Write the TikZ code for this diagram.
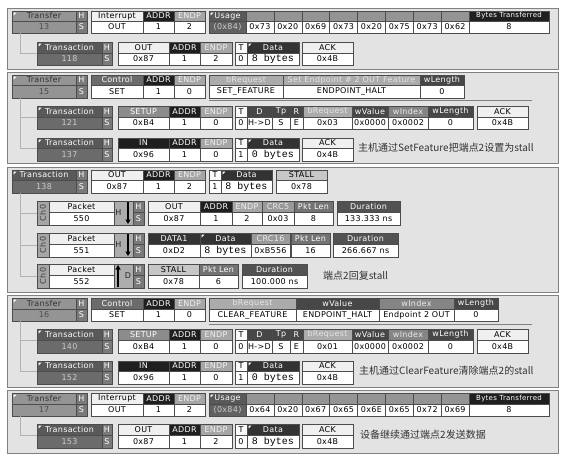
\documentclass[tikz,border=0pt]{standalone}
\usepackage{fontspec}
\usepackage{graphicx}
\usetikzlibrary{arrows.meta}

\newfontfamily\ui[LetterSpace=4]{DejaVu Sans}
\newfontfamily\mono{Liberation Mono}
\newfontfamily\cjk{Noto Sans CJK SC}
\newcommand\uif{\ui\fontsize{8}{9}\selectfont}
\newcommand\monof{\mono\fontsize{10}{11}\selectfont}

% one cell: name, style, x1, y1, x2, y2, text
\newcommand\cell[7]{%
  \pgfmathsetmacro\cellw{#5-#3}\pgfmathsetmacro\cellh{#6-#4}%
  \pgfmathsetmacro\cellx{(#3+#5)/2}\pgfmathsetmacro\celly{(#4+#6)/2}%
  \node[cell,#2,minimum width=\cellw pt,minimum height=\cellh pt] (#1) at (\cellx,\celly) {#7};}
% header over value on the current row
\newcommand\setrow[3]{\def\ya{#1}\def\yb{#2}\def\yc{#3}}
\newcommand\fld[7]{\cell{#1-h}{#4}{#2}{\ya}{#3}{\yb}{#6}\cell{#1-v}{#5}{#2}{\yb}{#3}{\yc}{#7}}
% small corner flag
\newcommand\cornerflag[1]{\fill[white] (#1.north west) ++(1.5,1.5) -- ++(3,0) -- ++(-3,3) -- cycle;}

% transfer row head: number, type style, type, value, endpoint
\newcommand\xfer[5]{%
  \fld{tr#1}{12}{76}{trh}{trv}{Transfer}{#1}\cornerflag{tr#1-h}
  \fld{hs#1}{76}{87}{hs}{hs}{H}{S}
  \fld{ty#1}{91}{143}{#2}{vw}{#3}{#4}
  \fld{ad#1}{143}{174}{hk}{vw}{ADDR}{1}
  \fld{ep#1}{174}{205}{hep}{vw}{ENDP}{#5}}
% usage bytes of a transfer
\newcommand\usagerow[2]{%
  \fld{us#1}{209}{246}{hus}{vus}{Usage}{(0x84)}\cornerflag{us#1-h}
  \foreach \b [count=\i] in {#2} {
    \pgfmathsetmacro\xl{246+(\i-1)*27.875}\pgfmathsetmacro\xr{\xl+27.875}
    \fld{ub#1-\i}{\xl}{\xr}{hg}{vw}{}{\b}
  }
  \fld{bt#1}{469}{549}{hk}{vw}{\ui\fontsize{7}{8}\selectfont Bytes Transferred}{8}}
% transaction row head: number, pid style, pid, value, endpoint
\newcommand\txn[5]{%
  \fld{tx#1}{37}{102}{txh}{txv}{Transaction}{#1}\cornerflag{tx#1-h}
  \fld{th#1}{102}{112}{hs}{hs}{H}{S}
  \fld{pid#1}{118}{169}{#2}{vw}{#3}{#4}
  \fld{ta#1}{169}{200}{hk}{vw}{ADDR}{1}
  \fld{te#1}{200}{232}{hep}{vw}{ENDP}{#5}}
% data stage: number, toggle, bytes
\newcommand\datastage[3]{%
  \fld{tg#1}{235}{247}{ht}{vw}{T}{#2}
  \fld{dt#1}{247}{299}{hd}{vm}{Data}{#3}\cornerflag{dt#1-h}
  \fld{ak#1}{302}{353}{hl}{vw}{ACK}{0x4B}}
% setup stage: number, bRequest
\newcommand\setupstage[2]{%
  \fld{tg#1}{235}{247}{ht}{vw}{T}{0}
  \fld{dr#1}{247}{272}{hdk}{vw}{D}{H->D}
  \fld{tp#1}{272}{290}{hdk}{vw}{Tp}{S}
  \fld{rc#1}{290}{303}{hdk}{vw}{R}{E}
  \fld{rq#1}{303}{352}{hbr}{vw}{bRequest}{#2}
  \fld{wv#1}{352}{388}{hdk}{vw}{wValue}{0x0000}
  \fld{wi#1}{388}{428}{hmd}{vw}{wIndex}{0x0002}
  \fld{wl#1}{428}{473}{hdk}{vw}{wLength}{0}
  \fld{ak#1}{477}{528}{hl}{vw}{ACK}{0x4B}}
% packet row head
\newcommand\pkt[1]{%
  \cell{ch#1}{chs}{37}{\ya}{49}{\yc}{\rotatebox{90}{Ch0}}
  \fld{pk#1}{49}{114}{hl}{vw}{Packet}{#1}
  \cell{ar#1}{har}{114}{\ya}{133}{\yc}{}
  \fld{ph#1}{133}{144}{hs}{hs}{H}{S}}

\begin{document}
\begin{tikzpicture}[x=1pt, y=-1pt,
    cell/.style={draw=black!70, line width=.5pt, inner sep=0pt, outer sep=0pt, font=\uif},
    trh/.style={fill=black!42, text=black!80},
    trv/.style={fill=black!42, text=black!70},
    hs/.style={fill=black!52, text=white},
    hl/.style={fill=black!6},
    vw/.style={fill=white},
    vm/.style={fill=white, font=\monof},
    hk/.style={fill=black!88, text=white},
    hep/.style={fill=black!35, text=black!5},
    hus/.style={fill=black!65, text=white},
    vus/.style={fill=black!62, text=black!20},
    hg/.style={fill=black!42},
    txh/.style={fill=black!65, text=white},
    txv/.style={fill=black!58, text=black!20},
    ht/.style={fill=black!2},
    hd/.style={fill=black!80, text=white},
    hctl/.style={fill=black!58, text=white},
    hbr/.style={fill=black!33, text=black!10},
    hdk/.style={fill=black!72, text=white},
    hmd/.style={fill=black!48, text=black!8},
    hsu/.style={fill=black!45, text=white},
    hst/.style={fill=black!22},
    hcrc/.style={fill=black!40, text=black!8},
    hpl/.style={fill=black!55, text=white},
    hdu/.style={fill=black!68, text=white},
    chs/.style={fill=black!35, text=black!75},
    har/.style={fill=black!32},
    dirlbl/.style={font=\uif, text=black!85, inner sep=0pt},
    panel/.style={draw=black!50, line width=1pt, fill=black!11},
    treeln/.style={draw=black!30, line width=.8pt},
    dirarr/.style={line width=1.6pt, -{Triangle[length=4.5pt,width=5pt]}},
    cnote/.style={font=\cjk\fontsize{10}{12}\selectfont, anchor=west, inner sep=0pt, text=black!80}]

    % Page and panels
    \useasboundingbox (0,0) rectangle (566,458);
    \fill[white] (0,0) rectangle (566,458);
    \draw[panel] (7,8) rectangle (558,69);
    \draw[panel] (7,72) rectangle (558,163);
    \draw[panel] (7,167) rectangle (558,292);
    \draw[panel] (7,295) rectangle (558,387);
    \draw[panel] (7,390) rectangle (558,453);

    % Transfer 13
    \setrow{11}{21}{33}
    \xfer{13}{hl}{Interrupt}{OUT}{2}
    \usagerow{13}{0x73,0x20,0x69,0x73,0x20,0x75,0x73,0x62}
    \setrow{42}{53}{65}
    \txn{118}{hl}{OUT}{0x87}{2}
    \datastage{118}{0}{8 bytes}
    \draw[treeln] (tr13-v.south west) ++(8,0) |- (tx118-h.south west);

    % Transfer 15: SET_FEATURE
    \setrow{75}{85}{98}
    \xfer{15}{hctl}{Control}{SET}{0}
    \fld{br15}{209}{283}{hbr}{vw}{bRequest}{SET\_FEATURE}
    \fld{fs15}{283}{420}{hbr}{vw}{Set Endpoint \# 2 OUT Feature}{ENDPOINT\_HALT}
    \fld{wl15}{420}{464}{hdk}{vw}{wLength}{0}
    \draw[black!50, line width=1pt] (209,100) -- (532,100);
    \setrow{106}{117}{129}
    \txn{121}{hsu}{SETUP}{0xB4}{0}
    \setupstage{121}{0x03}
    \setrow{138}{148}{161}
    \txn{137}{hk}{IN}{0x96}{0}
    \datastage{137}{1}{0 bytes}
    \node[cnote] (n15) at (358,148) {主机通过SetFeature把端点2设置为stall};
    \draw[treeln] (tr15-v.south west) ++(8,0) |- (tx121-h.south west);
    \draw[treeln] (tr15-v.south west) ++(8,0) |- (tx137-h.south west);

    % Transaction 138 with its packets
    \setrow{170}{180}{193}
    \fld{tx138}{12}{76}{txh}{txv}{Transaction}{138}\cornerflag{tx138-h}
    \fld{th138}{76}{87}{hs}{hs}{H}{S}
    \fld{pid138}{91}{143}{hl}{vw}{OUT}{0x87}
    \fld{ta138}{143}{174}{hk}{vw}{ADDR}{1}
    \fld{te138}{174}{205}{hep}{vw}{ENDP}{2}
    \fld{tg138}{209}{221}{ht}{vw}{T}{1}
    \fld{dt138}{221}{272}{hd}{vm}{Data}{8 bytes}\cornerflag{dt138-h}
    \fld{sk138}{276}{327}{hst}{vw}{STALL}{0x78}

    \setrow{201}{212}{225}
    \pkt{550}
    \node[dirlbl] (hd550) at ([xshift=-5pt]ar550.center) {H};
    \draw[dirarr] ([xshift=4.5pt,yshift=-1pt]ar550.north) -- ([xshift=4.5pt,yshift=1pt]ar550.south);
    \fld{pid550}{148}{200}{hl}{vw}{OUT}{0x87}
    \fld{ad550}{200}{232}{hk}{vw}{ADDR}{1}
    \fld{ep550}{232}{262}{hep}{vw}{ENDP}{2}
    \fld{cr550}{262}{294}{hcrc}{vw}{CRC5}{0x03}
    \fld{pl550}{294}{333}{hpl}{vw}{Pkt Len}{8}
    \fld{du550}{337}{400}{hdu}{vw}{Duration}{133.333 ns}

    \setrow{233}{244}{257}
    \pkt{551}
    \node[dirlbl] (hd551) at ([xshift=-5pt]ar551.center) {H};
    \draw[dirarr] ([xshift=4.5pt,yshift=-1pt]ar551.north) -- ([xshift=4.5pt,yshift=1pt]ar551.south);
    \fld{pid551}{148}{200}{hd}{vw}{DATA1}{0xD2}
    \fld{dt551}{200}{251}{hd}{vm}{Data}{8 bytes}\cornerflag{dt551-h}
    \fld{cr551}{251}{290}{hcrc}{vw}{CRC16}{0xB556}
    \fld{pl551}{291}{330}{hpl}{vw}{Pkt Len}{16}
    \fld{du551}{333}{398}{hdu}{vw}{Duration}{266.667 ns}

    \setrow{264}{275}{288}
    \pkt{552}
    \node[dirlbl] (hd552) at ([xshift=4.5pt]ar552.center) {D};
    \draw[dirarr] ([xshift=-5.5pt,yshift=1pt]ar552.south) -- ([xshift=-5.5pt,yshift=-1pt]ar552.north);
    \fld{pid552}{148}{199}{hst}{vw}{STALL}{0x78}
    \fld{pl552}{199}{238}{hpl}{vw}{Pkt Len}{6}
    \fld{du552}{242}{307}{hdu}{vw}{Duration}{100.000 ns}
    \node[cnote] (n138) at (323,276) {端点2回复stall};
    \foreach \p in {550,551,552}
        \draw[treeln] (tx138-v.south west) ++(8,0) |- (ch\p.west);

    % Transfer 16: CLEAR_FEATURE
    \setrow{298}{309}{321}
    \xfer{16}{hctl}{Control}{SET}{0}
    \fld{br16}{209}{296}{hbr}{vw}{bRequest}{CLEAR\_FEATURE}
    \fld{wv16}{296}{379}{hdk}{vw}{wValue}{ENDPOINT\_HALT}
    \fld{wi16}{379}{454}{hmd}{vw}{wIndex}{Endpoint 2 OUT}
    \fld{wl16}{454}{498}{hdk}{vw}{wLength}{0}
    \draw[black!50, line width=1pt] (209,324) -- (532,324);
    \setrow{329}{340}{353}
    \txn{140}{hsu}{SETUP}{0xB4}{0}
    \setupstage{140}{0x01}
    \setrow{361}{371}{384}
    \txn{152}{hk}{IN}{0x96}{0}
    \datastage{152}{1}{0 bytes}
    \node[cnote] (n16) at (359,371) {主机通过ClearFeature清除端点2的stall};
    \draw[treeln] (tr16-v.south west) ++(8,0) |- (tx140-h.south west);
    \draw[treeln] (tr16-v.south west) ++(8,0) |- (tx152-h.south west);

    % Transfer 17
    \setrow{393}{404}{416}
    \xfer{17}{hl}{Interrupt}{OUT}{2}
    \usagerow{17}{0x64,0x20,0x67,0x65,0x6E,0x65,0x72,0x69}
    \setrow{424}{435}{448}
    \txn{153}{hl}{OUT}{0x87}{2}
    \datastage{153}{0}{8 bytes}
    \node[cnote] (n17) at (360,435) {设备继续通过端点2发送数据};
    \draw[treeln] (tr17-v.south west) ++(8,0) |- (tx153-h.south west);
\end{tikzpicture}
\end{document}
